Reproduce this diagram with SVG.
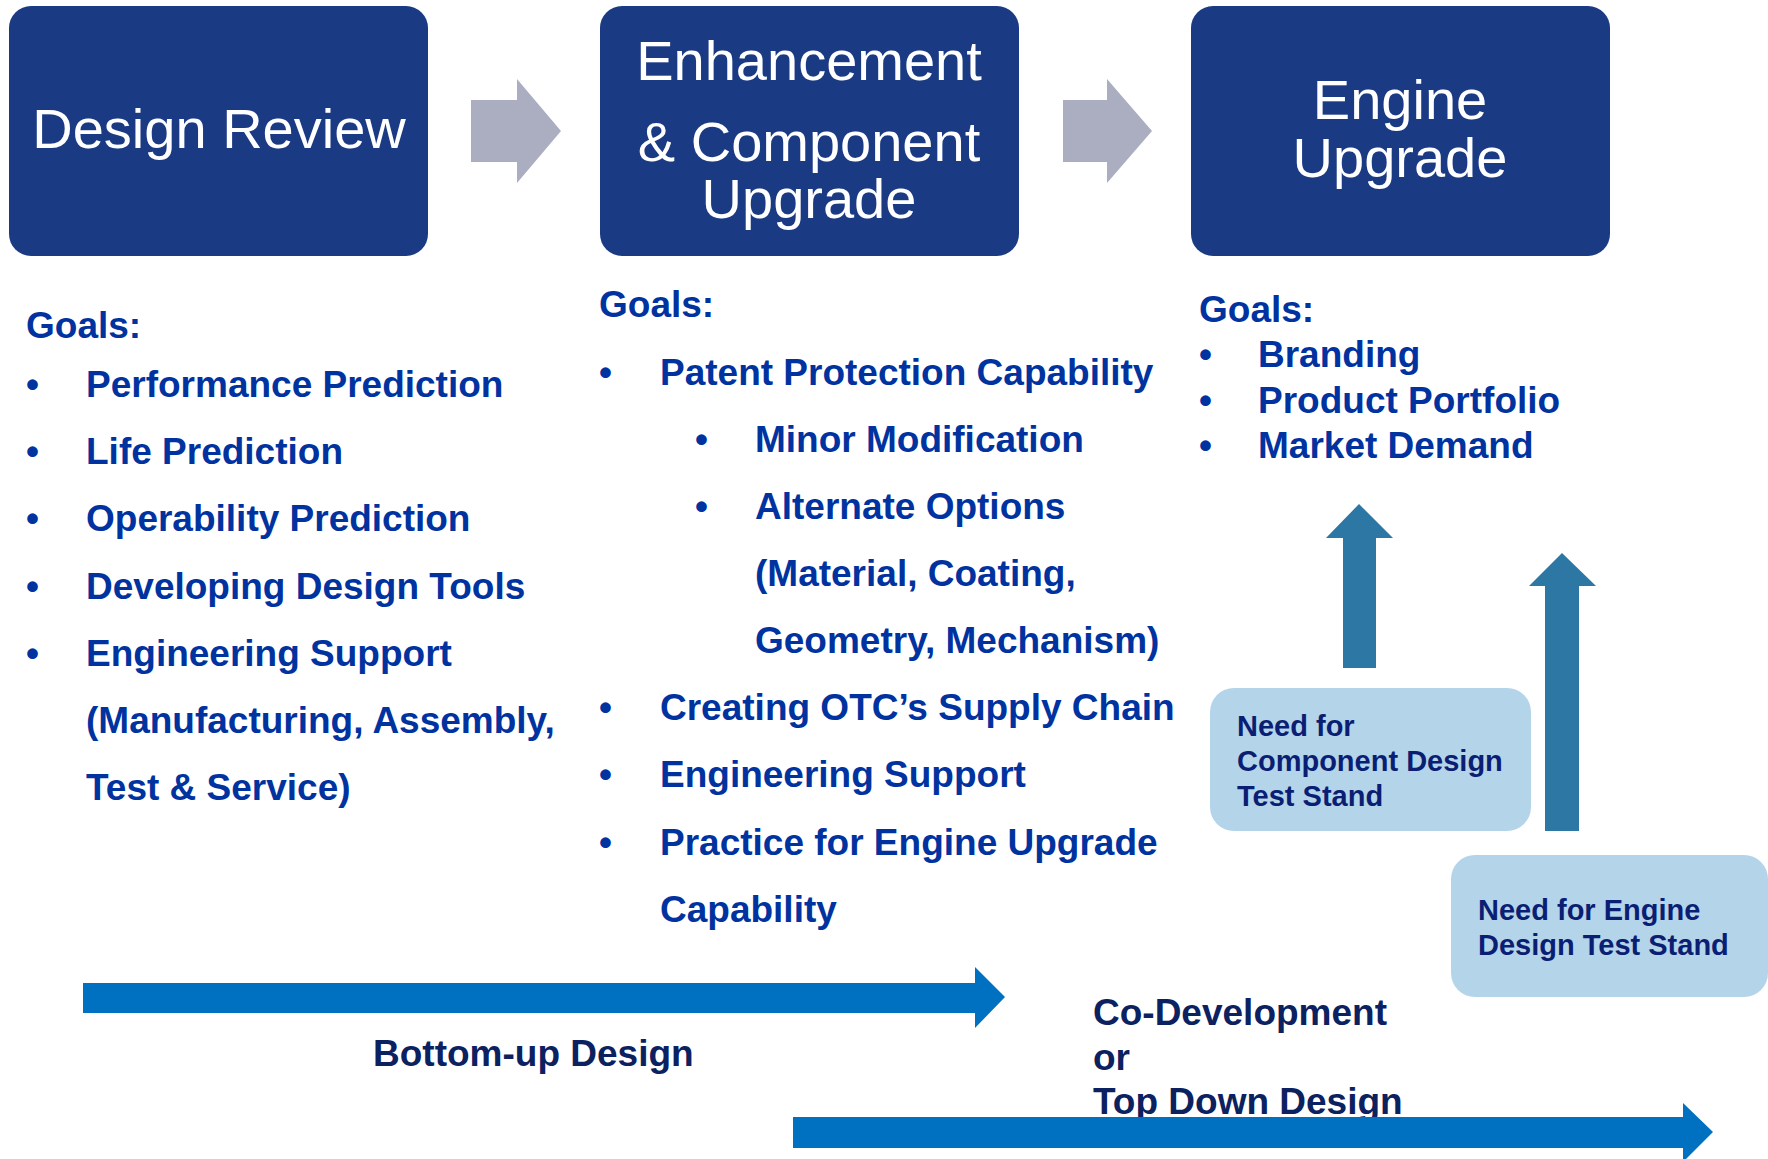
<svg xmlns="http://www.w3.org/2000/svg" width="1768" height="1159" viewBox="0 0 1768 1159">
<style>
.stage{fill:#1B3A84}
.stxt{font-family:"Liberation Sans",Arial,sans-serif;font-size:56px;fill:#ffffff;text-anchor:middle}
.goal{font-family:"Liberation Sans",Arial,sans-serif;font-size:37px;font-weight:bold;fill:#0033A0}
.need{fill:#B4D4EA}
.ntxt{font-family:"Liberation Sans",Arial,sans-serif;font-size:29px;font-weight:bold;fill:#0A1E73}
.btxt{font-family:"Liberation Sans",Arial,sans-serif;font-size:37px;font-weight:bold;fill:#0B2160}
.gray{fill:#ABADC0}
.teal{fill:#2C77A3}
.blue{fill:#0070C0}
</style>
<rect width="1768" height="1159" fill="#ffffff"/>
<g id="design-review">
<rect class="stage" x="9" y="6" width="419" height="250" rx="22"/>
<text class="stxt" x="219" y="148">Design Review</text>
</g>
<g id="enhancement">
<rect class="stage" x="600" y="6" width="419" height="250" rx="22"/>
<text class="stxt" x="809" y="80">Enhancement</text>
<text class="stxt" x="809" y="161">&amp; Component</text>
<text class="stxt" x="809" y="218">Upgrade</text>
</g>
<g id="engine-upgrade">
<rect class="stage" x="1191" y="6" width="419" height="250" rx="22"/>
<text class="stxt" x="1400" y="119">Engine</text>
<text class="stxt" x="1400" y="177">Upgrade</text>
</g>
<g id="goals-left" class="goal">
<text x="26" y="338">Goals:</text>
<text x="26" y="397">•</text><text x="86" y="397">Performance Prediction</text>
<text x="26" y="464">•</text><text x="86" y="464">Life Prediction</text>
<text x="26" y="531">•</text><text x="86" y="531">Operability Prediction</text>
<text x="26" y="599">•</text><text x="86" y="599">Developing Design Tools</text>
<text x="26" y="666">•</text><text x="86" y="666">Engineering Support</text>
<text x="86" y="733">(Manufacturing, Assembly,</text>
<text x="86" y="800">Test &amp; Service)</text>
</g>
<g id="goals-middle" class="goal">
<text x="599" y="317">Goals:</text>
<text x="599" y="385">•</text><text x="660" y="385">Patent Protection Capability</text>
<text x="695" y="452">•</text><text x="755" y="452">Minor Modification</text>
<text x="695" y="519">•</text><text x="755" y="519">Alternate Options</text>
<text x="755" y="586">(Material, Coating,</text>
<text x="755" y="653">Geometry, Mechanism)</text>
<text x="599" y="720">•</text><text x="660" y="720">Creating OTC’s Supply Chain</text>
<text x="599" y="787">•</text><text x="660" y="787">Engineering Support</text>
<text x="599" y="855">•</text><text x="660" y="855">Practice for Engine Upgrade</text>
<text x="660" y="922">Capability</text>
</g>
<g id="goals-right" class="goal">
<text x="1199" y="322">Goals:</text>
<text x="1199" y="367">•</text><text x="1258" y="367">Branding</text>
<text x="1199" y="413">•</text><text x="1258" y="413">Product Portfolio</text>
<text x="1199" y="458">•</text><text x="1258" y="458">Market Demand</text>
</g>
<g id="need-component">
<rect class="need" x="1210" y="688" width="321" height="143" rx="24"/>
<text class="ntxt" x="1237" y="736">Need for</text>
<text class="ntxt" x="1237" y="771">Component Design</text>
<text class="ntxt" x="1237" y="806">Test Stand</text>
</g>
<g id="need-engine">
<rect class="need" x="1451" y="855" width="317" height="142" rx="24"/>
<text class="ntxt" x="1478" y="920">Need for Engine</text>
<text class="ntxt" x="1478" y="955">Design Test Stand</text>
</g>
<g id="bottom-up-label">
<text class="btxt" x="373" y="1066">Bottom-up Design</text>
</g>
<g id="top-down-label">
<text class="btxt" x="1093" y="1025">Co-Development</text>
<text class="btxt" x="1093" y="1070">or</text>
<text class="btxt" x="1093" y="1114">Top Down Design</text>
</g>
<g id="connectors">
<polygon class="gray" points="471,100 517,100 517,79 561,131 517,183 517,162 471,162"/>
<polygon class="gray" points="1063,100 1107,100 1107,79 1152,131 1107,183 1107,162 1063,162"/>
<polygon class="teal" points="1343,668 1343,538 1326,538 1359,504 1393,538 1376,538 1376,668"/>
<polygon class="teal" points="1545,831 1545,586 1529,586 1562,553 1596,586 1579,586 1579,831"/>
<polygon class="blue" points="83,983 975,983 975,967 1005,997 975,1028 975,1013 83,1013"/>
<polygon class="blue" points="793,1117 1683,1117 1683,1103 1713,1132 1683,1162 1683,1148 793,1148"/>
</g>
</svg>
